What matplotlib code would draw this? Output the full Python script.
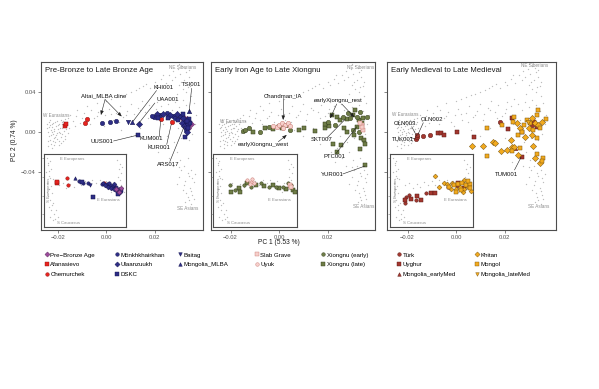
import matplotlib
import matplotlib.pyplot as plt
from matplotlib.lines import Line2D

matplotlib.use("Agg")
plt.rcParams["font.family"] = ["Liberation Sans", "DejaVu Sans"]

# ---- modern reference background (PC1, PC2) ----
bg_main = [
    (-0.0245, 0.004), (-0.0240, 0.000), (-0.0238, -0.004), (-0.0235, 0.007), (-0.0232, -0.008),
    (-0.0230, 0.002), (-0.0228, -0.012), (-0.0225, 0.005), (-0.0222, -0.002), (-0.0220, 0.009),
    (-0.0218, -0.006), (-0.0215, 0.001), (-0.0213, -0.010), (-0.0210, 0.006), (-0.0208, -0.003),
    (-0.0205, 0.011), (-0.0203, -0.007), (-0.0200, 0.003), (-0.0198, -0.013), (-0.0195, 0.008),
    (-0.0193, -0.001), (-0.0190, 0.012), (-0.0188, -0.005), (-0.0185, 0.004), (-0.0182, 0.010),
    (-0.0180, -0.009), (-0.0177, 0.006), (-0.0175, 0.001), (-0.0172, 0.013), (-0.0170, -0.004),
    (-0.0165, 0.008), (-0.0160, 0.014), (-0.0155, 0.004), (-0.0150, 0.017), (-0.0243, -0.014),
    (-0.0236, 0.010), (-0.0226, -0.016),
    (-0.0248, 0.008), (-0.0242, -0.009), (-0.0234, 0.012), (-0.0230, -0.003), (-0.0224, 0.000),
    (-0.0219, 0.003), (-0.0216, -0.013), (-0.0211, 0.010), (-0.0206, -0.001), (-0.0201, 0.007),
    (-0.0196, -0.009), (-0.0191, 0.004), (-0.0186, 0.008), (-0.0183, -0.002), (-0.0178, 0.011),
    (-0.0173, -0.007), (-0.0168, 0.003), (-0.0162, 0.010), (-0.0158, -0.001), (-0.0239, 0.005),
    (-0.0227, 0.008), (-0.0212, -0.005), (-0.0197, 0.000), (-0.0187, -0.011), (-0.0221, -0.009),
    (-0.0140, 0.011), (-0.0125, 0.016), (-0.0110, 0.009), (-0.0095, 0.019), (-0.0080, 0.012),
    (-0.0065, 0.022), (-0.0050, 0.014), (-0.0035, 0.020), (-0.0020, 0.010), (-0.0005, 0.017),
    (0.0010, 0.023), (0.0025, 0.012), (0.0040, 0.019), (0.0055, 0.026), (0.0070, 0.015),
    (0.0085, 0.021), (0.0100, 0.028), (0.0115, 0.018), (0.0130, 0.024), (0.0145, 0.031),
    (0.0160, 0.020), (0.0175, 0.027), (0.0190, 0.016), (0.0205, 0.023),
    (-0.0130, 0.006), (-0.0100, 0.014), (-0.0070, 0.008), (-0.0040, 0.016), (-0.0010, 0.006),
    (0.0020, 0.018), (0.0050, 0.010), (0.0080, 0.017), (0.0110, 0.012), (0.0140, 0.022),
    (0.0170, 0.014), (0.0200, 0.019),
    (-0.0120, 0.022), (-0.0080, 0.026), (-0.0040, 0.029), (0.0020, 0.033), (0.0060, 0.037),
    (0.0100, 0.040), (0.0135, 0.044), (0.0165, 0.048), (0.0210, 0.047), (0.0235, 0.057),
    (0.0270, 0.052), (0.0300, 0.068), (0.0325, 0.064), (0.0340, 0.062), (0.0310, 0.050),
    (0.0350, 0.050), (0.0335, 0.045),
    (0.0000, 0.031), (0.0040, 0.035), (0.0080, 0.038), (0.0120, 0.042), (0.0150, 0.046),
    (0.0180, 0.044), (0.0200, 0.050), (0.0225, 0.053), (0.0245, 0.049), (0.0260, 0.057),
    (0.0275, 0.061), (0.0285, 0.055), (0.0295, 0.063), (0.0305, 0.058), (0.0312, 0.066),
    (0.0320, 0.052), (0.0330, 0.060), (0.0340, 0.055), (0.0300, 0.047), (0.0315, 0.043),
    (0.0330, 0.040), (0.0345, 0.046), (0.0290, 0.038), (0.0350, 0.036),
    (0.0210, 0.030), (0.0225, 0.026), (0.0240, 0.033), (0.0255, 0.028), (0.0270, 0.022),
    (0.0285, 0.030), (0.0300, 0.025), (0.0315, 0.032), (0.0330, 0.027), (0.0345, 0.021),
    (0.0360, 0.029), (0.0370, 0.017), (0.0365, 0.008), (0.0355, -0.002), (0.0340, -0.008),
    (0.0235, 0.008), (0.0250, -0.004), (0.0265, 0.012), (0.0280, -0.010), (0.0295, 0.004),
    (0.0310, -0.006), (0.0325, 0.010),
    (0.0060, 0.002), (0.0100, -0.004), (0.0140, 0.004), (0.0170, -0.012), (0.0200, -0.006),
    (0.0215, -0.020), (0.0240, -0.016), (0.0260, -0.026), (0.0290, -0.020), (0.0275, -0.034),
    (0.0230, -0.030),
    (0.0305, -0.028), (0.0320, -0.034), (0.0335, -0.026), (0.0350, -0.038), (0.0340, -0.044),
    (0.0325, -0.049), (0.0360, -0.050), (0.0345, -0.056), (0.0330, -0.061), (0.0355, -0.063),
    (0.0340, -0.068), (0.0315, -0.058), (0.0365, -0.042), (0.0300, -0.045), (0.0290, -0.052),
    (0.0350, -0.072), (0.0325, -0.070),
    (0.0310, -0.038), (0.0335, -0.041), (0.0355, -0.046), (0.0320, -0.053), (0.0350, -0.059),
    (0.0335, -0.065), (0.0360, -0.067), (0.0300, -0.035),
]

# inset background (PC1, PC3)
bg_inset = [
    (-0.0238, 0.029), (-0.0226, 0.025), (-0.0232, 0.019), (-0.0220, 0.014), (-0.0240, 0.009),
    (-0.0228, 0.004), (-0.0215, -0.001), (-0.0236, -0.006), (-0.0222, -0.011), (-0.0230, -0.016),
    (-0.0218, -0.021), (-0.0234, -0.026), (-0.0225, -0.031), (-0.0212, -0.036), (-0.0230, -0.041),
    (-0.0220, -0.046), (-0.0208, -0.051), (-0.0226, -0.055), (-0.0215, -0.060), (-0.0200, -0.045),
    (-0.0195, -0.056), (-0.0232, 0.022), (-0.0224, 0.001), (-0.0236, -0.020), (-0.0219, -0.038),
    (-0.0205, -0.058), (-0.0228, 0.011),
    (-0.0190, -0.010), (-0.0175, -0.006), (-0.0160, -0.014), (-0.0145, -0.008), (-0.0130, -0.012),
    (-0.0115, -0.005), (-0.0100, -0.010), (-0.0085, -0.004), (-0.0070, -0.009), (-0.0055, -0.003),
    (-0.0040, -0.007), (-0.0025, -0.002),
    (0.0000, -0.004), (0.0015, -0.012), (0.0030, -0.006), (0.0045, -0.016), (0.0060, -0.009),
    (0.0070, -0.020), (0.0020, -0.020), (0.0055, -0.002),
    (0.0045, 0.026), (0.0055, 0.020), (0.0050, 0.013), (0.0060, 0.007), (0.0048, 0.002),
    (0.0065, 0.016),
]

# ---- panel 1: Pre-Bronze to Late Bronze Age ----
p1_prebronze = [(0.0306, 0.0156), (0.0320, 0.0143), (0.0331, 0.0133), (0.0348, 0.0080), (0.0338, 0.0043)]
p1_afanasievo = [(-0.0171, 0.0066), (-0.0167, 0.0080)]
p1_chemurchek = [(-0.0089, 0.0090), (-0.0082, 0.0133), (0.0224, 0.0130), (0.0269, 0.0100)]
p1_monkh = [(-0.0020, 0.0096), (0.0014, 0.0103), (0.0039, 0.0113), (0.0196, 0.0156), (0.0221, 0.0173),
            (0.0249, 0.0190), (0.0276, 0.0166), (0.0304, 0.0163), (0.0324, 0.0106), (0.0328, 0.0023),
            (0.0188, 0.0163), (0.0283, 0.0143)]
p1_ulaanzuukh = [(0.0133, 0.0083), (0.0207, 0.0180), (0.0235, 0.0180), (0.0262, 0.0173), (0.0290, 0.0180),
                 (0.0315, 0.0140), (0.0331, 0.0073), (0.0334, 0.0000), (0.0311, 0.0090), (0.0320, 0.0063)]
p1_dskc = [(0.0130, -0.0027), (0.0213, 0.0143), (0.0254, 0.0143), (0.0316, 0.0183), (0.0338, 0.0046),
           (0.0324, -0.0044), (0.0345, 0.0090), (0.0295, 0.0123), (0.0341, 0.0133), (0.0332, 0.0113)]
p1_baitag = [(0.0090, 0.0100)]
p1_mlba = [(0.0104, 0.0103), (0.0342, 0.0216)]

i1_prebronze = [(0.0040, -0.0160), (0.0052, -0.0190), (0.0058, -0.0140)]
i1_afanasievo = [(-0.0199, -0.0071), (-0.0197, -0.0048)]
i1_chemurchek = [(-0.0159, 0.0000), (-0.0152, -0.0096), (-0.0010, -0.0060), (0.0035, -0.0120)]
i1_monkh = [(-0.0108, -0.0034), (-0.0094, -0.0071), (-0.0072, -0.0071), (-0.0018, -0.0086), (-0.0012, -0.0070),
            (0.0002, -0.0080), (0.0014, -0.0090), (0.0026, -0.0110), (0.0038, -0.0130), (0.0050, -0.0150),
            (0.0010, -0.0060)]
i1_ulaanzuukh = [(-0.0005, -0.0100), (0.0008, -0.0120), (0.0020, -0.0140), (0.0032, -0.0160),
                 (0.0044, -0.0180), (0.0056, -0.0200), (0.0030, -0.0080)]
i1_dskc = [(-0.0052, -0.0264), (0.0060, -0.0170), (0.0047, -0.0220), (-0.0098, -0.0048)]
i1_baitag = [(-0.0065, -0.0096)]
i1_mlba = [(-0.0125, 0.0000)]

# ---- panel 2: Early Iron Age to Late Xiongnu ----
p2_slab = [(0.0342, 0.0073), (0.0348, 0.0023), (0.0342, 0.0056), (0.0335, 0.0090)]
p2_uyuk = [(-0.0010, 0.0056), (0.0001, 0.0073), (0.0011, 0.0090), (0.0025, 0.0073), (0.0038, 0.0090),
           (0.0045, 0.0063), (0.0018, 0.0040), (-0.0024, 0.0063)]
p2_xn_early = [(-0.0150, 0.0013), (-0.0140, 0.0023), (-0.0123, 0.0040), (-0.0078, 0.0006), (-0.0040, 0.0056),
               (-0.0003, 0.0066), (0.0029, 0.0073), (0.0045, 0.0023), (0.0204, 0.0106), (0.0231, 0.0073),
               (0.0266, 0.0156), (0.0293, 0.0146), (0.0321, 0.0156), (0.0335, 0.0200), (0.0362, 0.0156),
               (0.0307, 0.0023), (0.0328, 0.0000), (0.0286, 0.0190)]
p2_xn_late = [(-0.0109, 0.0006), (-0.0058, 0.0040), (-0.0024, 0.0033), (0.0011, 0.0040), (0.0084, 0.0023),
              (0.0103, 0.0040), (0.0150, 0.0013), (0.0190, 0.0040), (0.0208, 0.0063), (0.0280, 0.0133),
              (0.0307, 0.0173), (0.0328, 0.0123), (0.0348, 0.0140), (0.0342, 0.0090), (0.0321, 0.0056),
              (0.0310, -0.0027), (0.0337, -0.0054), (0.0351, -0.0080), (0.0355, -0.0114), (0.0335, -0.0167),
              (0.0280, 0.0006), (0.0269, 0.0040), (0.0222, -0.0120), (0.0255, -0.0127), (0.0238, -0.0194),
              (0.0190, 0.0083), (0.0218, 0.0173), (0.0238, 0.0156), (0.0252, 0.0123), (0.0355, -0.0327),
              (0.0314, 0.0223)]

i2_slab = [(0.0051, -0.0096), (0.0058, -0.0120)]
i2_uyuk = [(-0.0117, -0.0024), (-0.0103, -0.0048), (-0.0096, -0.0014), (-0.0090, -0.0071), (-0.0106, -0.0081)]
i2_xn_early = [(-0.0184, -0.0096), (-0.0164, -0.0168), (-0.0130, -0.0096), (-0.0103, -0.0120), (-0.0063, -0.0071),
               (-0.0030, -0.0120), (-0.0003, -0.0129), (0.0024, -0.0120), (0.0051, -0.0129), (0.0058, -0.0096),
               (0.0044, -0.0071)]
i2_xn_late = [(-0.0181, -0.0192), (-0.0150, -0.0143), (-0.0143, -0.0192), (-0.0117, -0.0071), (-0.0083, -0.0096),
              (-0.0050, -0.0110), (-0.0016, -0.0096), (0.0010, -0.0143), (0.0037, -0.0158), (0.0064, -0.0168),
              (0.0071, -0.0192)]

# ---- panel 3: Early Medieval to Late Medieval ----
p3_turk = [(-0.0166, -0.0070), (-0.0162, -0.0044), (-0.0160, -0.0027), (-0.0135, -0.0037), (-0.0107, -0.0027),
           (0.0182, 0.0106), (0.0313, 0.0073)]
p3_uyghur = [(-0.0076, -0.0004), (-0.0062, -0.0010), (-0.0048, -0.0027), (0.0003, 0.0006), (0.0072, -0.0044),
             (0.0213, 0.0030), (0.0230, 0.0140), (0.0271, 0.0006), (0.0323, 0.0106), (0.0333, 0.0056),
             (0.0271, -0.0244)]
p3_earlymed = [(0.0244, -0.0160)]
p3_khitan = [(0.0067, -0.0137), (0.0110, -0.0137), (0.0154, -0.0094), (0.0186, -0.0184), (0.0227, -0.0077),
             (0.0230, -0.0144), (0.0251, 0.0090), (0.0264, 0.0040), (0.0285, -0.0044), (0.0299, 0.0040),
             (0.0313, 0.0140), (0.0326, 0.0090), (0.0340, 0.0073), (0.0354, 0.0106), (0.0313, -0.0027),
             (0.0237, -0.0144), (0.0317, -0.0134), (0.0326, -0.0254), (0.0347, -0.0310), (0.0209, -0.0177),
             (0.0161, -0.0110), (0.0257, -0.0227)]
p3_mongol = [(0.0127, 0.0040), (0.0189, 0.0073), (0.0234, 0.0106), (0.0237, 0.0156), (0.0257, -0.0027),
             (0.0274, 0.0006), (0.0282, 0.0073), (0.0292, 0.0123), (0.0306, 0.0090), (0.0319, 0.0023),
             (0.0333, 0.0173), (0.0336, 0.0223), (0.0347, 0.0040), (0.0372, 0.0130), (0.0333, -0.0060),
             (0.0264, -0.0160), (0.0333, -0.0220), (0.0358, -0.0260), (0.0354, -0.0287), (0.0129, -0.0234),
             (0.0230, -0.0187)]
p3_latemed = [(0.0296, 0.0100)]

i3_turk = [(-0.0187, -0.0264), (-0.0192, -0.0359), (-0.0174, -0.0240), (-0.0147, -0.0312), (-0.0109, -0.0206),
           (-0.0022, -0.0120)]
i3_uyghur = [(-0.0190, -0.0312), (-0.0166, -0.0301), (-0.0143, -0.0254), (-0.0129, -0.0312), (-0.0089, -0.0215),
             (-0.0072, -0.0215), (0.0018, -0.0071), (0.0020, -0.0110), (0.0045, -0.0140)]
i3_khitan = [(-0.0072, 0.0034), (-0.0056, -0.0120), (-0.0036, -0.0071), (-0.0025, -0.008), (-0.0005, -0.006),
             (0.0012, -0.015), (0.0028, -0.012), (0.0042, -0.016), (0.0058, -0.013), (0.0072, -0.018),
             (0.0040, -0.020), (0.0045, -0.002), (-0.0010, -0.016)]
i3_mongol = [(-0.0015, -0.012), (0.0005, -0.010), (0.0020, -0.008), (0.0035, -0.006), (0.0050, -0.010),
             (0.0065, -0.008), (0.0010, -0.019), (0.0060, -0.004), (0.0030, -0.017), (0.0068, -0.014)]

# group styles: label -> (marker, face, edge)
STY = {
    "Pre\u2212Bronze Age": ("D", "#9B4A9B", "#5E2A5E"),
    "Afanasievo": ("s", "#E8231F", "#8E1410"),
    "Chemurchek": ("o", "#E8231F", "#8E1410"),
    "Mönkhkhairkhan": ("o", "#2D2D86", "#15154F"),
    "Ulaanzuukh": ("D", "#2D2D86", "#15154F"),
    "DSKC": ("s", "#2D2D86", "#15154F"),
    "Baitag": ("v", "#2D2D86", "#15154F"),
    "Mongolia_MLBA": ("^", "#2D2D86", "#15154F"),
    "Slab Grave": ("s", "#F6CFCB", "#C97B74"),
    "Uyuk": ("o", "#F6CFCB", "#C97B74"),
    "Xiongnu (early)": ("o", "#6F7D47", "#333D1C"),
    "Xiongnu (late)": ("s", "#6F7D47", "#333D1C"),
    "Türk": ("o", "#A3372F", "#5C1A15"),
    "Uyghur": ("s", "#A3372F", "#5C1A15"),
    "Mongolia_earlyMed": ("^", "#A3372F", "#5C1A15"),
    "Khitan": ("D", "#F2AA1E", "#7A5510"),
    "Mongol": ("s", "#F2AA1E", "#7A5510"),
    "Mongolia_lateMed": ("v", "#F2AA1E", "#7A5510"),
}

panels = [
    {
        "title": "Pre-Bronze to Late Bronze Age",
        "rect": (40.7, 203.0), "inset": (44.0, 126.0),
        "xlim": (-0.0272, 0.0399),
        "main": [("Pre\u2212Bronze Age", p1_prebronze), ("Afanasievo", p1_afanasievo),
                 ("Chemurchek", p1_chemurchek), ("Mönkhkhairkhan", p1_monkh),
                 ("Ulaanzuukh", p1_ulaanzuukh), ("DSKC", p1_dskc), ("Baitag", p1_baitag),
                 ("Mongolia_MLBA", p1_mlba)],
        "ins": [("Afanasievo", i1_afanasievo), ("Chemurchek", i1_chemurchek), ("Mönkhkhairkhan", i1_monkh),
                ("Ulaanzuukh", i1_ulaanzuukh), ("DSKC", i1_dskc), ("Baitag", i1_baitag),
                ("Mongolia_MLBA", i1_mlba), ("Pre\u2212Bronze Age", i1_prebronze)],
        "notes": [
            ("Altai_MLBA cline", (-0.0010, 0.0363), [((-0.0006, 0.0328), (-0.0023, 0.0173)),
                                                     ((-0.0006, 0.0328), (0.0063, 0.0158))], True),
            ("KHI001", (0.0235, 0.0450), [((0.0207, 0.0418), (0.0109, 0.0108))], False),
            ("UAA001", (0.0255, 0.0323), [((0.0200, 0.0293), (0.0136, 0.0098))], False),
            ("UUS001", (-0.0020, -0.0094), [((0.0029, -0.0087), (0.0126, -0.0030))], False),
            ("KUM001", (0.0187, -0.0067), [((0.0218, -0.0042), (0.0224, 0.0113))], False),
            ("KUR001", (0.0218, -0.0150), [((0.0249, -0.0122), (0.0268, 0.0083))], False),
            ("ARS017", (0.0255, -0.0327), [((0.0262, -0.0292), (0.0322, 0.0063))], False),
            ("TSI001", (0.0352, 0.0480), [((0.0352, 0.0440), (0.0342, 0.0213))], False),
        ],
        "regions": [("NE Siberians", (0.0314, 0.0646)), ("W Eurasians", (-0.0209, 0.0163)),
                    ("SE Asians", (0.0335, -0.0760))],
    },
    {
        "title": "Early Iron Age to Late Xiongnu",
        "rect": (210.7, 375.0), "inset": (213.3, 297.0),
        "xlim": (-0.0282, 0.0396),
        "main": [("Xiongnu (late)", p2_xn_late), ("Xiongnu (early)", p2_xn_early),
                 ("Slab Grave", p2_slab), ("Uyuk", p2_uyuk)],
        "ins": [("Xiongnu (late)", i2_xn_late), ("Xiongnu (early)", i2_xn_early),
                ("Uyuk", i2_uyuk), ("Slab Grave", i2_slab)],
        "notes": [
            ("Chandman_IA", (0.0018, 0.0363), [((0.0019, 0.0340), (0.0017, 0.0123))], True),
            ("earlyXiongnu_west", (-0.0065, -0.0127), [((-0.0003, -0.0094), (0.0032, -0.0027))], True),
            ("earlyXiongnu_rest", (0.0245, 0.0316), [((0.0238, 0.0283), (0.0211, 0.0140)),
                                                      ((0.0259, 0.0283), (0.0311, 0.0150))], True),
            ("SKT007", (0.0176, -0.0077), [((0.0200, -0.0050), (0.0273, 0.0130))], False),
            ("PTC001", (0.0227, -0.0244), [((0.0236, -0.0210), (0.0321, 0.0056))], False),
            ("YUR001", (0.0218, -0.0427), [((0.0263, -0.0417), (0.0355, -0.0337))], False),
        ],
        "regions": [("NE Siberians", (0.0335, 0.0650)), ("W Eurasians", (-0.0189, 0.0106)),
                    ("SE Asians", (0.0348, -0.0744))],
    },
    {
        "title": "Early Medieval to Late Medieval",
        "rect": (386.7, 555.7), "inset": (390.0, 473.3),
        "xlim": (-0.0286, 0.0411),
        "main": [("Türk", p3_turk), ("Uyghur", p3_uyghur), ("Mongolia_earlyMed", p3_earlymed),
                 ("Khitan", p3_khitan), ("Mongol", p3_mongol), ("Mongolia_lateMed", p3_latemed)],
        "ins": [("Türk", i3_turk), ("Uyghur", i3_uyghur), ("Khitan", i3_khitan), ("Mongol", i3_mongol)],
        "notes": [
            ("OLN003", (-0.0211, 0.0090), [((-0.0183, 0.0056), (-0.0162, -0.0037))], False),
            ("OLN002", (-0.0100, 0.0123), [((-0.0135, 0.0096), (-0.0158, -0.0027))], False),
            ("TUK001", (-0.0218, -0.0077), [((-0.0188, -0.0050), (-0.0169, -0.0067))], False),
            ("TUM001", (0.0209, -0.0427), [((0.0241, -0.0377), (0.0268, -0.0250))], False),
        ],
        "regions": [("NE Siberians", (0.0326, 0.0663)), ("W Eurasians", (-0.0211, 0.0173)),
                    ("SE Asians", (0.0340, -0.0744))],
    },
]

W, H = 599, 389
TOP, BOT = 62.3, 230.0
FRAME = "#4D4D4D"
GREY_TXT = "#8C8C8C"


def frac(x0, x1, y0, y1):
    return [x0 / W, 1 - y1 / H, (x1 - x0) / W, (y1 - y0) / H]


def scatter_group(ax, label, pts, s):
    m, fc, ec = STY[label]
    xs = [p[0] for p in pts]
    ys = [p[1] for p in pts]
    ax.scatter(xs, ys, s=s, marker=m, facecolor=fc, edgecolor=ec, linewidths=0.35, zorder=3)


fig = plt.figure(figsize=(W / 100, H / 100), dpi=100)

for k, p in enumerate(panels):
    ax = fig.add_axes(frac(p["rect"][0], p["rect"][1], TOP, BOT))
    ax.scatter([b[0] for b in bg_main], [b[1] for b in bg_main], s=0.9, color="#BDBDBD",
               linewidths=0, zorder=1)
    for label, pts in p["main"]:
        scatter_group(ax, label, pts, 10)
    ax.set_xlim(*p["xlim"])
    ax.set_ylim(-0.0977, 0.0700)
    ax.set_xticks([-0.02, 0.0, 0.02])
    ax.set_xticklabels(["\u22120.02", "0.00", "0.02"])
    ax.set_yticks([-0.04, 0.0, 0.04])
    if k == 0:
        ax.set_yticklabels(["\u22120.04", "0.00", "0.04"])
    else:
        ax.set_yticklabels([])
        ax.tick_params(axis="y", length=0)
    ax.tick_params(labelsize=4.2, colors="#555555", length=2, width=0.5, pad=1.5)
    for sp in ax.spines.values():
        sp.set_color(FRAME)
        sp.set_linewidth(0.8)
    ax.text(0.025, 0.953, p["title"], transform=ax.transAxes, fontsize=5.6, va="center", ha="left",
            color="#1A1A1A")
    for name, (rx, ry) in p["regions"]:
        ax.text(rx, ry, name, fontsize=3.3, color=GREY_TXT, ha="center", va="center", zorder=2)
    for text, tpos, lines, head in p["notes"]:
        ax.text(tpos[0], tpos[1], text, fontsize=4.3, ha="center", va="center", zorder=5, color="#111111")
        for start, end in lines:
            if head:
                props = dict(arrowstyle="-|>,head_length=0.25,head_width=0.1", lw=0.4, color="#222222",
                             shrinkA=0, shrinkB=0)
            else:
                props = dict(arrowstyle="-", lw=0.4, color="#222222", shrinkA=0, shrinkB=0)
            ax.annotate("", xy=end, xytext=start, arrowprops=props, zorder=4)

    # inset PC1 vs PC3
    ia = fig.add_axes(frac(p["inset"][0], p["inset"][1], 154.0, 227.0))
    ia.scatter([b[0] for b in bg_inset], [b[1] for b in bg_inset], s=0.9, color="#BDBDBD",
               linewidths=0, zorder=1)
    for label, pts in p["ins"]:
        scatter_group(ia, label, pts, 6)
    ia.set_xlim(-0.025, 0.008)
    ia.set_ylim(-0.070, 0.035)
    ia.set_xticks([])
    ia.set_yticks([0.029, 0.002, -0.025, -0.052])
    ia.set_yticklabels([])
    ia.tick_params(axis="y", length=1.2, width=0.4, colors="#777777")
    for sp in ia.spines.values():
        sp.set_color(FRAME)
        sp.set_linewidth(0.8)
    ia.text(-0.0135, 0.0274, "E Europeans", fontsize=3.1, color=GREY_TXT, ha="center", va="center")
    ia.text(-0.0228, -0.0168, "S Europeans", fontsize=3.1, color=GREY_TXT, ha="center", va="center",
            rotation=90)
    ia.text(0.0010, -0.0312, "E Eurasians", fontsize=3.1, color=GREY_TXT, ha="center", va="center")
    ia.text(-0.0152, -0.0638, "S Caucasus", fontsize=3.1, color=GREY_TXT, ha="center", va="center")

fig.text(279 / W, 1 - 243 / H, "PC 1 (5.53 %)", fontsize=4.8, ha="center", va="center", color="#1A1A1A")
fig.text(15 / W, 1 - 140 / H, "PC 2 (0.74 %)", fontsize=4.8, ha="center", va="center", rotation=90,
         color="#1A1A1A")

# legend, one block per column
legend_cols = [
    (46.7, ["Pre\u2212Bronze Age", "Afanasievo", "Chemurchek"]),
    (116.7, ["Mönkhkhairkhan", "Ulaanzuukh", "DSKC"]),
    (180.0, ["Baitag", "Mongolia_MLBA"]),
    (256.7, ["Slab Grave", "Uyuk"]),
    (323.3, ["Xiongnu (early)", "Xiongnu (late)"]),
    (399.3, ["Türk", "Uyghur", "Mongolia_earlyMed"]),
    (477.3, ["Khitan", "Mongol", "Mongolia_lateMed"]),
]
for cx, labels in legend_cols:
    handles = []
    for lab in labels:
        m, fc, ec = STY[lab]
        handles.append(Line2D([], [], linestyle="none", marker=m, markersize=2.6, markerfacecolor=fc,
                              markeredgecolor=ec, markeredgewidth=0.3, label=lab))
    fig.legend(handles=handles, loc="upper left", bbox_to_anchor=((cx - 2.2) / W, 1 - 252.3 / H),
               frameon=False, fontsize=4.4, handlelength=0.7, handletextpad=0.25, borderpad=0,
               borderaxespad=0, labelspacing=0.72)

fig.savefig("out.png", dpi=100)
plt.close()
